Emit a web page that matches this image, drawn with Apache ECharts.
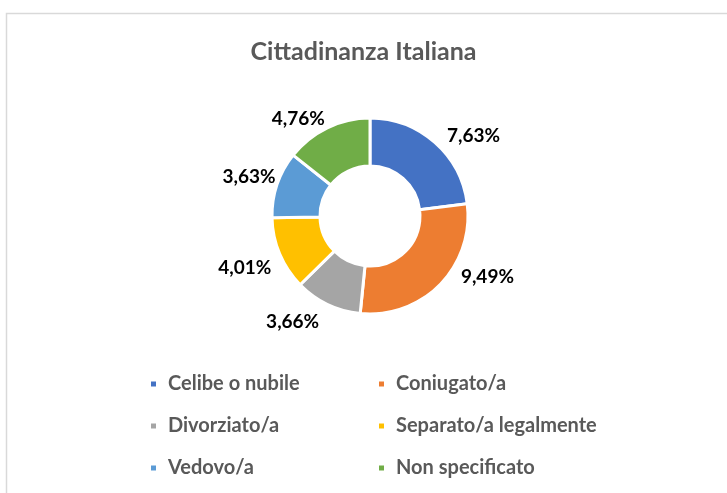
<!DOCTYPE html>
<html>
<head>
<meta charset="utf-8">
<script src="https://cdn.jsdelivr.net/npm/echarts@6/dist/echarts.min.js"></script>
<style>
html, body { margin: 0; padding: 0; background: #fff; }
#main { width: 727px; height: 493px; }
</style>
</head>
<body>
<div id="main"></div>
<script>
var chartTitle = "Cittadinanza Italiana";
var categories = ["Celibe o nubile", "Coniugato/a", "Divorziato/a", "Separato/a legalmente", "Vedovo/a", "Non specificato"];
var values = [7.63, 9.49, 3.66, 4.01, 3.63, 4.76];
var colors = ["#4472C4", "#ED7D31", "#A5A5A5", "#FFC000", "#5B9BD5", "#70AD47"];
// small nudges so the labels sit where the original "best fit" put them
var labelNudge = [[2, -1], [10, -13], [0, 10], [4, 11], [11, -5], [6, -2]];

function formatPct(v) {
    return v.toFixed(2).replace(".", ",") + "%";
}

var pieData = [];
for (var i = 0; i < categories.length; i++) {
    pieData.push({ name: categories[i], value: values[i] });
}

var myChart = echarts.init(document.getElementById("main"));
var option = {
    backgroundColor: "#fff",
    color: colors,
    animation: false,
    title: {
        text: chartTitle,
        left: "center",
        top: 34,
        textStyle: { fontFamily: "Lato", fontWeight: "bold", fontSize: 25, color: "#595959" }
    },
    graphic: [{
        type: "rect",
        shape: { x: 6.5, y: 13.5, width: 760, height: 520 },
        style: { fill: null, stroke: "#d9d9d9", lineWidth: 1.5 },
        silent: true
    }],
    legend: {
        left: 149,
        top: 374,
        width: 470,
        padding: 0,
        orient: "horizontal",
        icon: "rect",
        itemWidth: 7,
        itemHeight: 7,
        itemGap: 22,
        textStyle: {
            fontFamily: "Lato", fontWeight: "bold", fontSize: 20, color: "#595959",
            width: 187, lineHeight: 20, padding: [0, 0, 0, 6]
        },
        data: categories
    },
    series: [{
        type: "pie",
        center: [370, 216],
        radius: [50, 98],
        startAngle: 90,
        clockwise: true,
        itemStyle: { borderColor: "#fff", borderWidth: 3 },
        label: {
            show: true,
            position: "outside",
            formatter: function (p) { return formatPct(p.value); },
            fontFamily: "Lato", fontWeight: "bold", fontSize: 19, color: "#000"
        },
        labelLine: { show: false, length: 8, length2: 0 },
        labelLayout: function (params) {
            var n = labelNudge[params.dataIndex];
            return { dx: n[0], dy: n[1] };
        },
        emphasis: { disabled: true },
        data: pieData
    }]
};
myChart.setOption(option);
</script>
</body>
</html>
